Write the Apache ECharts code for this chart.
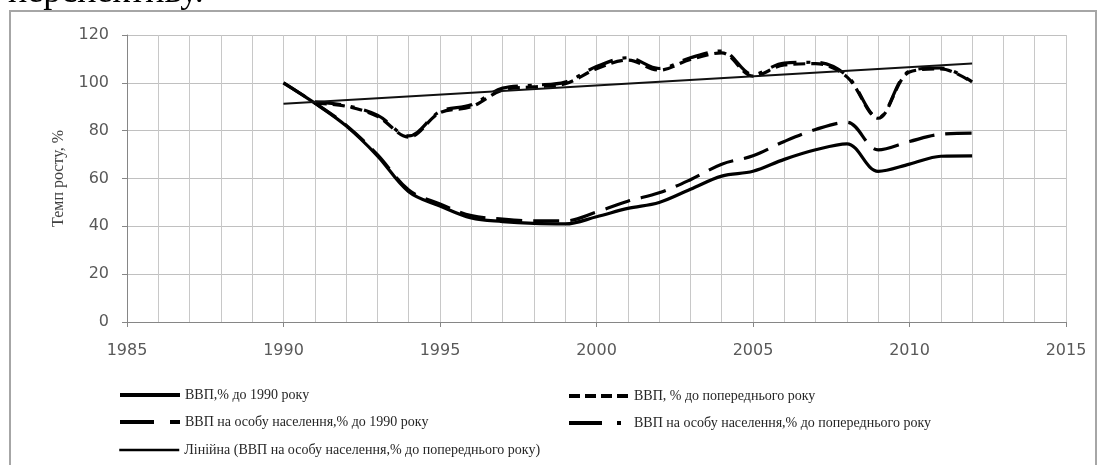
<!DOCTYPE html>
<html>
<head>
<meta charset="utf-8">
<script src="https://cdn.jsdelivr.net/npm/echarts@6/dist/echarts.min.js"></script>
<style>
html,body{margin:0;padding:0;background:#fff;}
#chart{width:1100px;height:465px;}
</style>
</head>
<body>
<div id="chart"></div>
<script>
// ---- data ----
const years = [1990,1991,1992,1993,1994,1995,1996,1997,1998,1999,2000,2001,2002,2003,2004,2005,2006,2007,2008,2009,2010,2011,2012];
const gdpTo1990 = [100,91.5,82,69.5,54.5,48.5,43.5,42,41.2,41,44,47.5,50,55.5,61,63,68,72,74.5,63,66,69.3,69.5];
const gdpToPrev = [null,91.5,90.2,86,77.3,87.5,90,97,98.3,99.6,105.9,109.5,105.3,109.8,112.5,102.8,107.5,108,102.5,85.2,104.5,105.8,100.2];
const perCapTo1990 = [100,91.6,82.3,70,55.2,49.3,44.5,43,42.3,42.3,46,50.5,54,59.5,66,69.5,75.5,80.5,83.5,72,75.5,78.5,79];
const perCapToPrev = [null,92,90.5,86.5,77.8,88,90.8,97.8,99,100.3,106.8,110.5,106,110.5,113.3,103.5,108.3,108.6,103,85.5,104.9,106.2,100.4];
const trendYears = [1990, 2012];
const trendValues = [91.3, 108.1];
const xTicks = [1985,1990,1995,2000,2005,2010,2015];
const yTicks = [0,20,40,60,80,100,120];

const names = [
  'ВВП,% до 1990 року',
  'ВВП, % до попереднього року',
  'ВВП на особу населення,% до 1990 року',
  'ВВП на особу населення,% до попереднього року',
  'Лінійна (ВВП на особу населення,% до попереднього року)'
];

const pairs = (xs, ys) => xs.map((x,i)=>[x, ys[i]]);

const chart = echarts.init(document.getElementById('chart'), null, {renderer:'canvas'});

const legendText = {fontFamily:'Liberation Serif', fontSize:14, color:'#262626'};
function mkLegend(name, left, top, ls) {
  return {
    data:[name], left:left, top:top, padding:0, itemWidth:60, itemHeight:14,
    selectedMode:false, textStyle:legendText,
    itemStyle:{opacity:0, color:'rgba(0,0,0,0)', borderWidth:0},
    lineStyle: Object.assign({color:'#000', opacity:1}, ls)
  };
}

const option = {
  animation:false,
  backgroundColor:'#fff',
  graphic:[
    {type:'rect', shape:{x:10,y:11,width:1086,height:470}, style:{fill:'none', stroke:'#a6a6a6', lineWidth:2}, silent:true},
    {type:'text', left:8, top:-25, style:{text:'перспективу.', font:'36px "Liberation Serif"', fill:'#000'}, silent:true}
  ],
  grid:{left:127, right:34, top:35, bottom:143},
  xAxis:{
    type:'value', min:1985, max:2015, interval:5,
    axisLine:{lineStyle:{color:'#868686'}},
    axisTick:{show:true, length:5, lineStyle:{color:'#868686'}},
    axisLabel:{color:'#595959', fontFamily:'DejaVu Sans', fontSize:16, margin:21,
      formatter:(v)=> xTicks.includes(v) ? String(v) : ''},
    splitLine:{show:true, lineStyle:{color:'#c8c8c8'}},
    minorTick:{show:false, splitNumber:5},
    minorSplitLine:{show:true, lineStyle:{color:'#c8c8c8'}}
  },
  yAxis:{
    type:'value', min:0, max:120, interval:20,
    name:'Темп росту, %', nameLocation:'middle', nameGap:60, nameRotate:90,
    nameTextStyle:{color:'#404040', fontFamily:'Liberation Serif', fontSize:16},
    axisLine:{show:true, lineStyle:{color:'#868686'}},
    axisTick:{show:true, length:5, lineStyle:{color:'#868686'}},
    axisLabel:{color:'#595959', fontFamily:'DejaVu Sans', fontSize:16, margin:18,
      formatter:(v)=> yTicks.includes(v) ? String(v) : ''},
    splitLine:{show:true, lineStyle:{color:'#c0c0c0'}}
  },
  legend:[
    mkLegend(names[0], 118, 388, {type:'solid', width:4}),
    mkLegend(names[1], 567, 389, {type:[11,5], width:4}),
    mkLegend(names[2], 118, 415, {type:[34,16], width:4}),
    mkLegend(names[3], 567, 416, {type:[33,15,4,40], width:4}),
    mkLegend(names[4], 118, 443, {type:'solid', width:2.5})
  ],
  series:[
    {name:names[0], type:'line', data:pairs(years,gdpTo1990), smooth:0.35, symbol:'none',
      lineStyle:{color:'#000', width:3.2, type:'solid'}, itemStyle:{color:'#000'}},
    {name:names[1], type:'line', data:pairs(years,gdpToPrev), smooth:0.35, symbol:'none',
      lineStyle:{color:'#000', width:3.2, type:[12,6]}, itemStyle:{color:'#000'}},
    {name:names[2], type:'line', data:pairs(years,perCapTo1990), smooth:0.35, symbol:'none',
      lineStyle:{color:'#000', width:3.2, type:[26,11]}, itemStyle:{color:'#000'}},
    {name:names[3], type:'line', data:pairs(years,perCapToPrev), smooth:0.35, symbol:'none',
      lineStyle:{color:'#000', width:3.2, type:[26,10,4,10]}, itemStyle:{color:'#000'}},
    {name:names[4], type:'line', data:pairs(trendYears,trendValues), symbol:'none',
      lineStyle:{color:'#111', width:2, type:'solid'}, itemStyle:{color:'#111'}}
  ]
};
chart.setOption(option);
</script>
</body>
</html>
